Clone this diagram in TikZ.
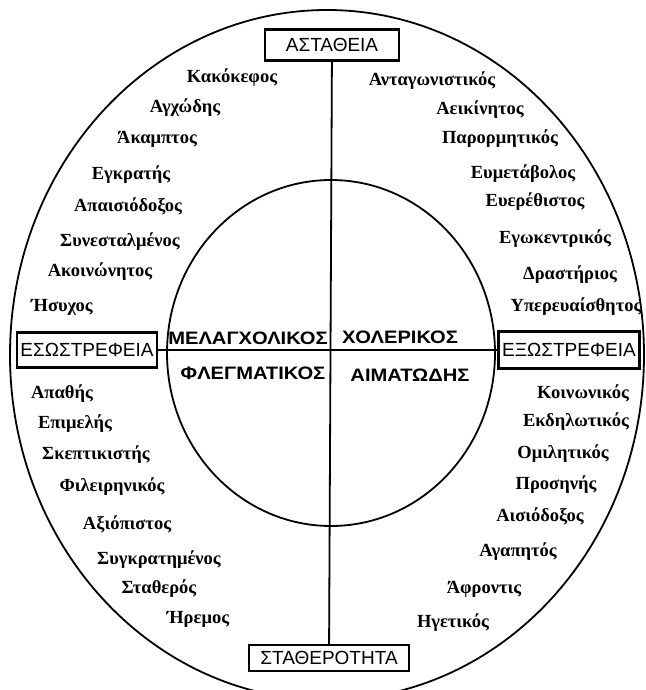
\documentclass[tikz,border=0pt]{standalone}
\usepackage{fontspec}
\setmainfont{Liberation Serif}
\newfontfamily\capsfont{Liberation Sans}
\newfontfamily\tempfont[FakeStretch=1.12]{Liberation Sans}
\usetikzlibrary{positioning}
\tikzset{
  axisbox/.style={draw, line width=2.2pt, fill=white, inner sep=0pt,
    font=\capsfont\fontsize{19}{21}\selectfont},
  temper/.style={anchor=base, inner sep=0pt,
    font=\tempfont\bfseries\fontsize{18}{20}\selectfont},
  trait/.style={anchor=base, inner sep=0pt,
    font=\bfseries\fontsize{18.5}{20}\selectfont},
  ring/.style={line width=1.8pt}
}

\begin{document}
\begin{tikzpicture}[x=1pt, y=-1pt]
  \useasboundingbox (0,0) rectangle (645,690);
  \fill[white] (0,0) rectangle (645,690);
  % the two circles
  \draw[ring] (327,355) ellipse [x radius=317, y radius=345];
  \draw[ring] (331,353) ellipse [x radius=164, y radius=173];
  % the axes and their ends
  \node[axisbox, minimum width=134pt, minimum height=31pt] (unstable) at (332,45) {ΑΣΤΑΘΕΙΑ};
  \node[axisbox, minimum width=160pt, minimum height=26pt] (stable) at (329,658) {ΣΤΑΘΕΡΟΤΗΤΑ};
  \node[axisbox, minimum width=140pt, minimum height=35pt] (intro) at (87,350) {ΕΣΩΣΤΡΕΦΕΙΑ};
  \node[axisbox, minimum width=141pt, minimum height=37pt] (extro) at (569,350) {ΕΞΩΣΤΡΕΦΕΙΑ};
  \draw[ring] (unstable) -- (stable);
  \draw[ring] (intro) -- (extro);
  % the four temperaments
  \node[temper] (melan) at (248,344) {ΜΕΛΑΓΧΟΛΙΚΟΣ};
  \node[temper] (chol) at (400,343) {ΧΟΛΕΡΙΚΟΣ};
  \node[temper] (phleg) at (253,379) {ΦΛΕΓΜΑΤΙΚΟΣ};
  \node[temper] (sang) at (410,381) {ΑΙΜΑΤΩΔΗΣ};
  % traits
  \foreach \w/\x/\y [count=\i] in {
      Κακόκεφος/232/77, Αγχώδης/185/107, Άκαμπτος/157/137, Εγκρατής/131/173,
      Απαισιόδοξος/128/205, Συνεσταλμένος/120/240, Ακοινώνητος/100/270, Ήσυχος/62/305,
      Ανταγωνιστικός/432/80, Αεικίνητος/480/108, Παρορμητικός/500/137, Ευμετάβολος/523/172,
      Ευερέθιστος/535/200, Εγωκεντρικός/555/237, Δραστήριος/570/273, Υπερευαίσθητος/576/305,
      Απαθής/62/392, Επιμελής/75/422, Σκεπτικιστής/96/453, Φιλειρηνικός/112/485,
      Αξιόπιστος/127/523, Συγκρατημένος/159/558, Σταθερός/159/587, Ήρεμος/198/617,
      Κοινωνικός/583/392, Εκδηλωτικός/576/420, Ομιλητικός/563/452, Προσηνής/556/483,
      Αισιόδοξος/540/515, Αγαπητός/518/550, Άφροντις/484/587, Ηγετικός/453/621}
    \node[trait] (trait\i) at (\x,{\y+6}) {\w};
\end{tikzpicture}
\end{document}
